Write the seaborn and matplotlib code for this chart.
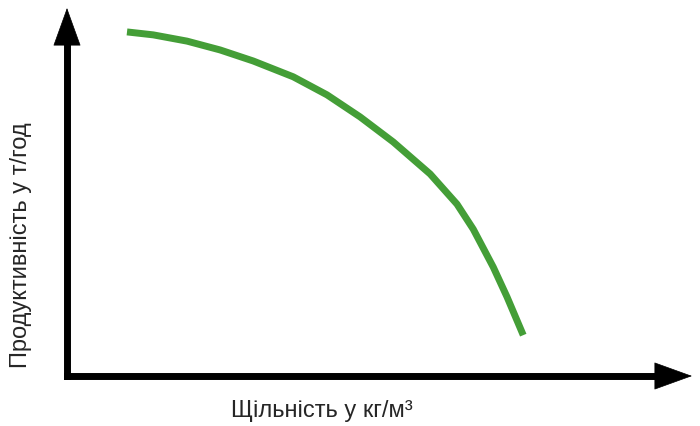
import matplotlib
matplotlib.use("Agg")
import matplotlib.pyplot as plt
import seaborn as sns

# Curve (arbitrary units, both axes run 0..10)
density = [0.96, 1.38, 1.92, 2.45, 2.98, 3.62, 4.16, 4.69, 5.22, 5.81,
           6.24, 6.50, 6.82, 7.04, 7.30]
output = [9.35, 9.27, 9.10, 8.86, 8.56, 8.13, 7.64, 7.04, 6.36, 5.49,
          4.67, 3.99, 2.96, 2.15, 1.11]

x_label = "Щільність у кг/м³"
y_label = "Продуктивність у т/год"

sns.set_theme(style="white")
plt.rcParams['font.family'] = ['Liberation Sans', 'DejaVu Sans']

fig = plt.figure(figsize=(7, 4.26), dpi=100)
ax = fig.add_axes([67 / 700, 50 / 426, 625 / 700, 368 / 426])

sns.lineplot(x=density, y=output, ax=ax, color='#449E37', linewidth=5,
             sort=False, solid_capstyle='butt')

ax.set_xlim(0, 10)
ax.set_ylim(0, 10)
ax.set_xticks([])
ax.set_yticks([])
for s in ax.spines.values():
    s.set_visible(False)

# axis lines
ax.plot([0, 0], [0, 0.95], transform=ax.transAxes, color='black', lw=5,
        solid_capstyle='projecting', clip_on=False)
ax.plot([0, 0.95], [0, 0], transform=ax.transAxes, color='black', lw=5,
        solid_capstyle='projecting', clip_on=False)

# arrow heads
head = dict(arrowstyle='-|>,head_length=26,head_width=9.4', lw=0.5,
            color='black', shrinkA=0, shrinkB=0, mutation_scale=1)
ax.annotate('', xy=(0, 1), xytext=(0, 0.85), xycoords='axes fraction',
            arrowprops=head, annotation_clip=False)
ax.annotate('', xy=(1, 0), xytext=(0.9, 0), xycoords='axes fraction',
            arrowprops=head, annotation_clip=False)

fig.text(322 / 700, 1 - 411 / 426, x_label, ha='center', va='center', fontsize=17)
fig.text(21 / 700, 1 - 245 / 426, y_label, ha='center', va='center', fontsize=17,
         rotation=90)

fig.savefig('out.png', dpi=100)
